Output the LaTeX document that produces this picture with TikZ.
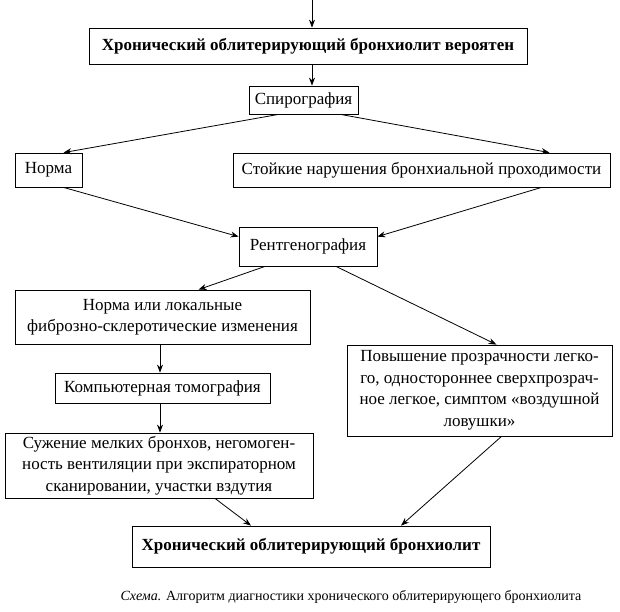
\documentclass[tikz,border=0pt]{standalone}
\usepackage{fontspec}
\setmainfont{Liberation Serif}
\usetikzlibrary{arrows.meta,calc}
\begin{document}
\begin{tikzpicture}[x=1pt,y=-1pt,
  box/.style={draw, line width=0.8pt, inner sep=0pt, align=center, font=\fontsize{17}{21.5}\selectfont},
  bbox/.style={box, font=\fontsize{17}{21.5}\selectfont\bfseries},
  arr/.style={-{Stealth[length=8pt,width=6pt]}, line width=0.8pt}]
\useasboundingbox[fill=white] (0,0) rectangle (620,611);
\node[bbox, minimum width=438, minimum height=36] (b1) at (308,46) {Хронический облитерирующий бронхиолит вероятен};
\node[box, minimum width=109, minimum height=28] (spiro) at (303.5,100) {Спирография};
\node[box, minimum width=67, minimum height=34] (norm) at (48.5,170) {Норма};
\node[box, minimum width=377, minimum height=34] (stoik) at (421.5,170) {Стойкие нарушения бронхиальной проходимости};
\node[box, minimum width=138, minimum height=39] (rent) at (308,246.5) {Рентгенография};
\node[box, minimum width=295, minimum height=54] (norm2) at (162.5,317) {Норма или локальные\\фиброзно-склеротические изменения};
\node[box, minimum width=215, minimum height=30] (kt) at (162.5,388) {Компьютерная томография};
\node[box, minimum width=308, minimum height=65] (suzh) at (159,465.5) {Сужение мелких бронхов, негомоген-\\ность вентиляции при экспираторном\\сканировании, участки вздутия};
\node[box, minimum width=265, minimum height=91] (pov) at (479.5,390.5) {Повышение прозрачности легко-\\го, одностороннее сверхпрозрач-\\ное легкое, симптом «воздушной\\ловушки»};
\node[bbox, minimum width=358, minimum height=41] (fin) at (311,546.5) {Хронический облитерирующий бронхиолит};
\node[font=\fontsize{14}{17}\selectfont, inner sep=0pt] (cap) at (351,597) {\textit{Схема.} Алгоритм диагностики хронического облитерирующего бронхиолита};
\coordinate (top) at (312,0);
\draw[arr] (top) -- (top |- b1.north);
\draw[arr] (b1.south -| top) -- (spiro.north -| top);
\draw[arr] ($(spiro.south)+(-25,0)$) -- ($(norm.north)+(15,0)$);
\draw[arr] ($(spiro.south)+(37,0)$) -- ($(stoik.north)+(128,0)$);
\draw[arr] ($(norm.south)+(15,0)$) -- ($(rent.north west)+(0,10)$);
\draw[arr] ($(stoik.south)+(120,0)$) -- ($(rent.north east)+(0,10)$);
\draw[arr] ($(rent.south)+(-43,0)$) -- ($(norm2.north)+(36,0)$);
\draw[arr] ($(rent.south)+(28,0)$) -- ($(pov.north)+(17,0)$);
\draw[arr] (norm2.south -| 160,0) -- (kt.north -| 160,0);
\draw[arr] (kt.south -| 160,0) -- (suzh.north -| 160,0);
\draw[arr] ($(suzh.south)+(56,0)$) -- ($(fin.north)+(-60,0)$);
\draw[arr] ($(pov.south)+(22,0)$) -- ($(fin.north)+(90,0)$);
\end{tikzpicture}
\end{document}
